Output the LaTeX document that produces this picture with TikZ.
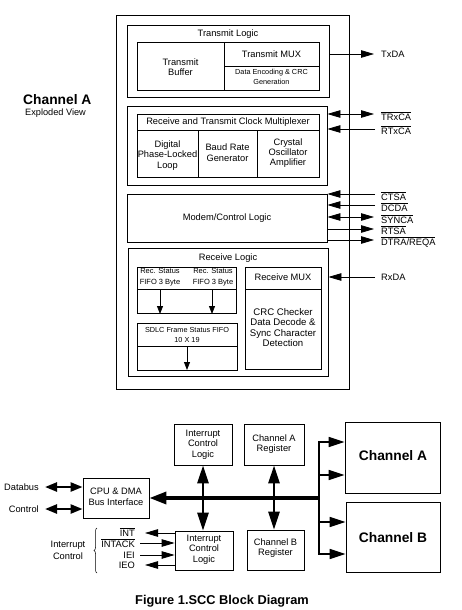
\documentclass[tikz,border=0pt]{standalone}
\usepackage{fontspec}
\setmainfont{Liberation Sans}
\usetikzlibrary{arrows.meta,fit,decorations.pathreplacing}
\newcommand\ovl[1]{$\overline{\hbox{#1}}$}
\begin{document}
\begin{tikzpicture}[x=1pt,y=-1pt,
 box/.style={draw, line width=0.8pt, inner sep=0pt},
 lbl/.style={font=\fontsize{9.3}{10.5}\selectfont, inner sep=0pt, align=center},
 sml/.style={font=\fontsize{7.3}{10}\selectfont, inner sep=0pt, align=center},
 rec/.style={font=\fontsize{7.5}{11}\selectfont, inner sep=0pt, align=center},
 sig/.style={font=\fontsize{9.3}{11}\selectfont, inner sep=0pt, anchor=west},
 lsig/.style={font=\fontsize{9.3}{11}\selectfont, inner sep=0pt, anchor=east},
 arr/.style={line width=0.8pt, -{Triangle[length=13pt,width=7.5pt]}},
 darr/.style={line width=0.8pt, {Triangle[length=13pt,width=7.5pt]}-{Triangle[length=13pt,width=7.5pt]}},
 sarr/.style={line width=0.8pt, -{Triangle[length=8pt,width=6pt]}},
 wdarr/.style={line width=2.4pt, {Triangle[length=12pt,width=9pt]}-{Triangle[length=12pt,width=9pt]}},
 vdarr/.style={line width=2.6pt, {Triangle[length=18pt,width=11pt]}-{Triangle[length=18pt,width=11pt]}},
 bus/.style={line width=3.4pt, -{Triangle[length=17pt,width=12pt]}},
 brarr/.style={line width=1.6pt, -{Triangle[length=16pt,width=10pt]}},
 big/.style={font=\fontsize{13.8}{16}\bfseries\selectfont, inner sep=0pt}
]
\useasboundingbox (0,0) rectangle (461,610);

% ---------- Channel A exploded view ----------
\node[big, anchor=west] (ttl) at (23,100) {Channel A};
\node[lbl, anchor=west, font=\fontsize{9.2}{11}\selectfont] (exv) at (25,113) {Exploded View};

\node[box, fit={(116,15) (349,389)}] (outer) {};

% Transmit logic
\node[box, fit={(127,25) (329,97)}] (tl) {};
\node[lbl] (tlt) at (228,34) {Transmit Logic};
\node[box, fit={(137,42) (224,90)}] (tbuf) {};
\node[lbl] (tbuft) at (180.5,67) {Transmit\\Buffer};
\node[box, fit={(224,42) (319,90)}] (tmux) {};
\draw[line width=0.8pt] (224,66) -- (319,66);
\node[lbl] (tmuxt) at (271.5,54) {Transmit MUX};
\node[sml] (tenc) at (271.5,77) {Data Encoding \& CRC\\Generation};

% Clock multiplexer
\node[box, fit={(127,106) (327,185)}] (cm) {};
\node[box, fit={(137,114) (319,177)}] (cmi) {};
\draw[line width=0.8pt] (137,130) -- (319,130);
\draw[line width=0.8pt] (198,130) -- (198,177);
\draw[line width=0.8pt] (257,130) -- (257,177);
\node[lbl] (cmt) at (228,122) {Receive and Transmit Clock Multiplexer};
\node[lbl] (dpll) at (167.5,155.5) {Digital\\Phase-Locked\\Loop};
\node[lbl] (brg) at (227.5,152.5) {Baud Rate\\Generator};
\node[lbl, font=\fontsize{9.3}{10}\selectfont] (xtal) at (288,153) {Crystal\\Oscillator\\Amplifier};

% Modem/control
\node[box, fit={(127,194) (327,242)}] (mc) {};
\node[lbl] (mct) at (227,218) {Modem/Control Logic};

% Receive logic
\node[box, fit={(128,248) (328,376)}] (rl) {};
\node[lbl] (rlt) at (228,258) {Receive Logic};
\node[box, fit={(137,267) (236,313)}] (rs) {};
\draw[line width=0.8pt] (137,289) -- (236,289);
\node[rec] (rs1) at (160,277.5) {Rec. Status\\FIFO 3 Byte};
\node[rec] (rs2) at (213,277.5) {Rec. Status\\FIFO 3 Byte};
\coordinate (a1s) at (160,289); \coordinate (a1e) at (160,314);
\coordinate (a2s) at (212,289); \coordinate (a2e) at (212,314);
\draw[sarr] (a1s) -- (a1e);
\draw[sarr] (a2s) -- (a2e);
\node[box, fit={(137,323) (237,370)}] (sdlc) {};
\draw[line width=0.8pt] (137,346) -- (237,346);
\node[sml] (sdlct) at (187,335) {SDLC Frame Status FIFO\\10 X 19};
\coordinate (a3s) at (187,346); \coordinate (a3e) at (187,370);
\draw[sarr] (a3s) -- (a3e);
\node[box, fit={(245,267) (321,369)}] (rmux) {};
\draw[line width=0.8pt] (245,289) -- (321,289);
\node[lbl] (rmuxt) at (283,277) {Receive MUX};
\node[lbl, font=\fontsize{9.6}{10.6}\selectfont] (crc) at (283,327.5) {CRC Checker\\Data Decode \&\\Sync Character\\Detection};

% Signals
\node[sig] (txda) at (381,54) {TxDA};
\node[sig] (trxca) at (381,116) {\ovl{TRxCA}};
\node[sig] (rtxca) at (381,130) {\ovl{RTxCA}};
\node[sig] (ctsa) at (381,196) {\ovl{CTSA}};
\node[sig] (dcda) at (381,207) {\ovl{DCDA}};
\node[sig] (synca) at (381,219) {\ovl{SYNCA}};
\node[sig] (rtsa) at (381,230) {\ovl{RTSA}};
\node[sig] (dtra) at (381,242) {\ovl{DTRA/REQA}};
\node[sig] (rxda) at (381,277) {RxDA};

\coordinate (p-txda) at (374,54);
\coordinate (p-trxca) at (374,114);
\coordinate (p-rtxca) at (375,129);
\coordinate (p-ctsa) at (375,194);
\coordinate (p-dcda) at (375,205);
\coordinate (p-synca) at (374,217);
\coordinate (p-rtsa) at (374,229);
\coordinate (p-dtra) at (374,240);
\coordinate (p-rxda) at (375,277);

\draw[arr] (tl.east |- p-txda) -- (p-txda);
\draw[darr] (cm.east |- p-trxca) -- (p-trxca);
\draw[arr] (p-rtxca) -- (cm.east |- p-rtxca);
\draw[arr] (p-ctsa) -- (mc.east |- p-ctsa);
\draw[arr] (p-dcda) -- (mc.east |- p-dcda);
\draw[darr] (mc.east |- p-synca) -- (p-synca);
\draw[arr] (mc.east |- p-rtsa) -- (p-rtsa);
\draw[arr] (mc.east |- p-dtra) -- (p-dtra);
\draw[arr] (p-rxda) -- (rl.east |- p-rxda);

% ---------- SCC block diagram ----------
\node[box, fit={(174,424) (232,465)}] (icl1) {};
\node[lbl] (icl1t) at (203,444.5) {Interrupt\\Control\\Logic};
\node[box, fit={(175,531) (233,570)}] (icl2) {};
\node[lbl] (icl2t) at (204,549.5) {Interrupt\\Control\\Logic};
\node[box, fit={(83,478) (149,518)}] (cpu) {};
\node[lbl, font=\fontsize{9.3}{11}\selectfont] (cput) at (116,497) {CPU \& DMA\\Bus Interface};
\node[box, fit={(244,424) (304,465)}] (car) {};
\node[lbl] (cart) at (274,444) {Channel A\\Register};
\node[box, fit={(247,530) (304,570)}] (cbr) {};
\node[lbl] (cbrt) at (275.5,548) {Channel B\\Register};
\node[box, fit={(345,422) (440,493)}] (chA) {};
\node[big] (chAt) at (393,456) {Channel A};
\node[box, fit={(346,502) (440,572)}] (chB) {};
\node[big] (chBt) at (393,538) {Channel B};

\node[lsig] (db) at (39,487) {Databus};
\node[lsig] (ctl) at (39,509) {Control};
\coordinate (dbs) at (45,487);
\coordinate (cts) at (45,509);
\draw[wdarr] (dbs) -- (cpu.west |- dbs);
\draw[wdarr] (cts) -- (cpu.west |- cts);

% buses
\coordinate (bj) at (319,498);
\coordinate (vbt) at (319,441);
\coordinate (vbb) at (319,555);
\draw[line width=2pt] (vbt) -- (vbb);
\draw[bus] (bj) -- (cpu.east |- bj);
\coordinate (b1) at (319,442);
\coordinate (b2) at (319,475);
\coordinate (b3) at (319,522);
\coordinate (b4) at (319,554);
\draw[brarr] (b1) -- (chA.west |- b1);
\draw[brarr] (b2) -- (chA.west |- b2);
\draw[brarr] (b3) -- (chB.west |- b3);
\draw[brarr] (b4) -- (chB.west |- b4);
\draw[vdarr] (icl1.south) -- (icl1.south |- icl2.north);
\draw[vdarr] (car.south) -- (car.south |- cbr.north);

% interrupt signals
\node[lsig] (int) at (135,532) {\ovl{INT}};
\node[lsig] (intack) at (135,543) {\ovl{INTACK}};
\node[lsig] (iei) at (135,555) {IEI};
\node[lsig] (ieo) at (135,565) {IEO};
\coordinate (q-int) at (145,533);
\coordinate (q-intack) at (140,543);
\coordinate (q-iei) at (140,555);
\coordinate (q-ieo) at (145,565);
\draw[arr] (icl2.west |- q-int) -- (q-int);
\draw[arr] (q-intack) -- (icl2.west |- q-intack);
\draw[arr] (q-iei) -- (icl2.west |- q-iei);
\draw[arr] (icl2.west |- q-ieo) -- (q-ieo);

\coordinate (brb) at (97,573);
\coordinate (brt) at (97,528);
\draw[line width=0.5pt, decorate, decoration={brace, amplitude=3pt}] (brb) -- (brt);
\node[lbl, font=\fontsize{9.3}{12}\selectfont] (ict) at (68,550) {Interrupt\\Control};

% caption
\node[font=\fontsize{12.8}{15}\bfseries\selectfont, inner sep=0pt] (cap) at (222,601) {Figure 1.SCC Block Diagram};
\end{tikzpicture}
\end{document}
